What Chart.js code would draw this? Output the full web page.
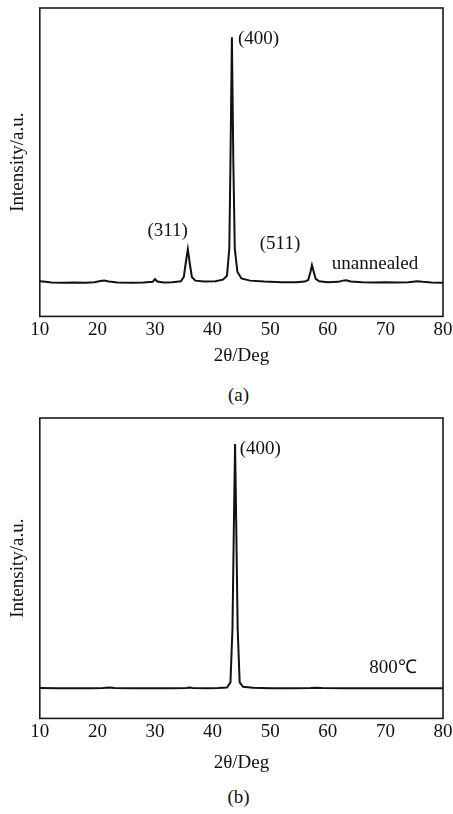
<!DOCTYPE html>
<html>
<head>
<meta charset="utf-8">
<script src="https://cdn.jsdelivr.net/npm/chart.js@4/dist/chart.umd.min.js"></script>
<style>
    body { margin: 0; background: #fff; width: 453px; height: 814px; position: relative; overflow: hidden; }
    canvas { position: absolute; left: 0; }
    .cap { position: absolute; width: 453px; left: 12px; text-align: center; font: 19px "Liberation Serif", serif; color: #111; }
</style>
</head>
<body>
<canvas id="chartA" width="453" height="370" style="top:0"></canvas>
<div class="cap" style="top:384px">(a)</div>
<canvas id="chartB" width="453" height="367" style="top:410px"></canvas>
<div class="cap" style="top:786px">(b)</div>
<script>
// x tick values (2θ, degrees)
var xTicks = [10, 20, 30, 40, 50, 60, 70, 80];

// (a) unannealed
var anglesA = [10, 11, 12, 14, 16, 18, 19.5, 20.5, 21.2, 22, 23.5, 26, 28, 29.6, 30.0, 30.4, 31.5, 33, 34.5, 35.0,
    35.35, 35.7, 36.05, 36.4, 37, 38.5, 40.5, 41.8, 42.5, 42.9, 43.1, 43.35, 43.6, 43.85, 44.3, 45, 46.5, 49, 52, 54.5,
    56, 56.6, 57.0, 57.25, 57.55, 57.9, 58.5, 60, 61.8, 62.6, 63.2, 64, 66, 68, 70, 72, 74, 75.5, 76.5, 78, 80];
var intensityA = [11.4, 11.2, 11.0, 10.9, 11.0, 10.9, 11.1, 11.5, 11.6, 11.3, 11.0, 10.9, 11.0, 11.2, 12.1, 11.3, 11.0, 11.1, 11.4, 12.8,
    17.5, 21.8, 17, 12.8, 11.6, 11.3, 11.4, 11.9, 13.2, 22, 50, 90.5, 50, 22, 14.5, 12.3, 11.6, 11.3, 11.1, 11.1,
    11.3, 11.8, 14.5, 16.6, 14.5, 12.2, 11.4, 11.1, 11.2, 11.6, 11.7, 11.3, 11.1, 11.0, 11.1, 11.0, 11.1, 11.4, 11.2, 11.0, 10.9];
var labelsA = [
    { text: '(400)', x: 44.4, y: 90, align: 'left' },
    { text: '(311)', x: 32.2, y: 27.7, align: 'center' },
    { text: '(511)', x: 51.7, y: 23.5, align: 'center' },
    { text: 'unannealed', x: 68.2, y: 16.9, align: 'center' }
];

// (b) 800 °C
var anglesB = [10, 13, 16, 19, 21, 22, 23, 26, 30, 33, 35.5, 36, 36.5, 39, 41, 42.5, 43.1, 43.45, 43.7, 43.9,
    44.1, 44.35, 44.7, 45.3, 47, 50, 54, 57, 58, 59, 63, 67, 71, 75, 80];
var intensityB = [10.1, 10.0, 10.0, 10.0, 10.1, 10.3, 10.1, 10.0, 10.0, 10.0, 10.1, 10.3, 10.1, 10.0, 10.1, 10.3, 12, 30, 65, 91.3,
    65, 30, 12, 10.5, 10.2, 10.0, 10.0, 10.1, 10.2, 10.1, 10.0, 10.0, 10.0, 10.0, 10.0];
var labelsB = [
    { text: '(400)', x: 44.7, y: 89.6, align: 'left' },
    { text: '800℃', x: 71.3, y: 16.7, align: 'center' }
];

var serif = '"Liberation Serif", "Times New Roman", serif';
var ink = '#111';

// box round the plot area
var framePlugin = {
    id: 'frame',
    afterDraw: function (chart) {
        var a = chart.chartArea, ctx = chart.ctx;
        ctx.save();
        ctx.strokeStyle = '#1a1a1a';
        ctx.lineWidth = 1.6;
        ctx.strokeRect(a.left, a.top, a.right - a.left, a.bottom - a.top);
        ctx.restore();
    }
};

// peak labels placed in data coordinates
var peakLabels = {
    id: 'peakLabels',
    afterDatasetsDraw: function (chart, args, opts) {
        var ctx = chart.ctx, xs = chart.scales.x, ys = chart.scales.y;
        ctx.save();
        ctx.fillStyle = ink;
        ctx.font = '19px ' + serif;
        ctx.textBaseline = 'middle';
        (opts.items || []).forEach(function (l) {
            ctx.textAlign = l.align;
            ctx.fillText(l.text, xs.getPixelForValue(l.x), ys.getPixelForValue(l.y));
        });
        ctx.restore();
    }
};

function makeChart(id, angles, values, labels, titleGap) {
    var pts = angles.map(function (a, i) { return { x: a, y: values[i] }; });
    return new Chart(document.getElementById(id), {
        type: 'line',
        data: {
            datasets: [{
                data: pts,
                borderColor: ink,
                borderWidth: 2,
                pointRadius: 0,
                tension: 0,
                fill: false
            }]
        },
        options: {
            responsive: false,
            animation: false,
            layout: { padding: { top: 8, right: 10, bottom: 3, left: 0 } },
            plugins: {
                legend: { display: false },
                tooltip: { enabled: false },
                peakLabels: { items: labels }
            },
            scales: {
                x: {
                    type: 'linear',
                    min: 10,
                    max: 80,
                    grid: { display: false },
                    border: { display: false },
                    afterBuildTicks: function (axis) {
                        axis.ticks = xTicks.map(function (v) { return { value: v }; });
                    },
                    ticks: { color: ink, padding: -6, font: { family: serif, size: 19 } },
                    title: {
                        display: true,
                        text: '2θ/Deg',
                        color: ink,
                        padding: { top: titleGap, bottom: 0 },
                        font: { family: serif, size: 19 }
                    }
                },
                y: {
                    min: 0,
                    max: 100,
                    grid: { display: false },
                    border: { display: false },
                    ticks: { display: false },
                    title: {
                        display: true,
                        text: 'Intensity/a.u.',
                        color: ink,
                        padding: { top: 7, bottom: 2 },
                        font: { family: serif, size: 19 }
                    }
                }
            }
        },
        plugins: [framePlugin, peakLabels]
    });
}

makeChart('chartA', anglesA, intensityA, labelsA, 9);
makeChart('chartB', anglesB, intensityB, labelsB, 14);
</script>
</body>
</html>
